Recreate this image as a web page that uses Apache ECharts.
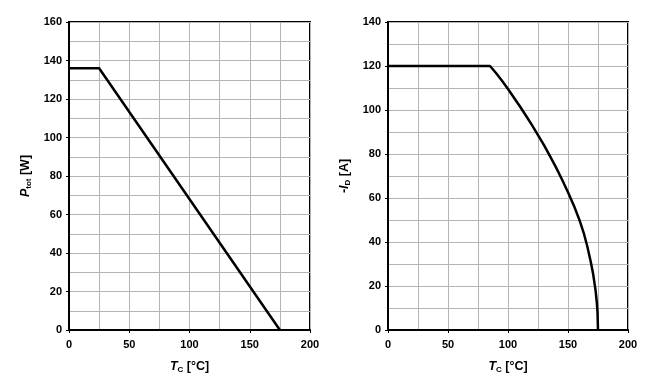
<!DOCTYPE html>
<html><head><meta charset="utf-8">
<script src="https://cdn.jsdelivr.net/npm/echarts@6/dist/echarts.min.js"></script>
<style>html,body{margin:0;padding:0;background:#fff}#c{width:654px;height:386px}</style>
</head><body><div id="c"></div>
<script>
// Left chart: Ptot vs Tc
const ptotT = [0, 25, 175];
const ptotW = [136, 136, 0];
// Right chart: -ID vs Tc
const idT = [0, 85, 90, 95, 100, 105, 110, 115, 120, 125, 130, 135, 140, 145, 150, 155, 160, 163, 166, 169, 171, 173, 174, 174.6, 175];
const idA = [120, 120, 116.8, 113.3, 109.5, 105.6, 101.6, 97.4, 93.1, 88.6, 84, 79, 73.9, 68.4, 62.6, 56.4, 49.3, 44.3, 38.2, 30.9, 25.3, 17.9, 12.6, 8, 0];
const xTicks = [0, 50, 100, 150, 200];

const chart = echarts.init(document.getElementById('c'));
const FONT = '"Liberation Sans", Arial, sans-serif';
const gridLine = {show: true, lineStyle: {color: '#b4b4b4', width: 1}};
const lbl = {color: '#000', fontFamily: FONT, fontWeight: 'bold', fontSize: 11};
const nameRich = {
  i: {fontFamily: FONT, fontWeight: 'bold', fontStyle: 'italic', fontSize: 12.5, color: '#000'},
  s: {fontFamily: FONT, fontWeight: 'bold', fontSize: 8, color: '#000', verticalAlign: 'bottom', padding: [6, 0, 0, 0]},
  n: {fontFamily: FONT, fontWeight: 'bold', fontSize: 12.5, color: '#000'}
};
function xAxis(gi) {
  return {type: 'value', gridIndex: gi, min: xTicks[0], max: xTicks[xTicks.length - 1], interval: 50,
    name: '{i|T}{s|C}{n| [°C]}', nameLocation: 'middle', nameGap: 30,
    nameTextStyle: {rich: nameRich},
    axisLine: {show: true, lineStyle: {color: '#000', width: 2}},
    axisTick: {show: true, length: 3, lineStyle: {color: '#000'}},
    axisLabel: Object.assign({margin: 9}, lbl),
    splitLine: gridLine, minorTick: {show: false, splitNumber: 2},
    minorSplitLine: gridLine};
}
function yAxis(gi, max, name) {
  return {type: 'value', gridIndex: gi, min: 0, max: max, interval: 20,
    name: name, nameLocation: 'middle', nameGap: 36, nameRotate: 90,
    nameTextStyle: {rich: nameRich},
    axisLine: {show: true, lineStyle: {color: '#000', width: 2}},
    axisTick: {show: true, length: 3, lineStyle: {color: '#000'}},
    axisLabel: Object.assign({margin: 7}, lbl),
    splitLine: gridLine, minorTick: {show: false, splitNumber: 2},
    minorSplitLine: gridLine};
}
chart.setOption({
  animation: false,
  grid: [
    {left: 69, top: 22, width: 241, height: 308, show: true, borderColor: '#000', borderWidth: 2, backgroundColor: 'transparent'},
    {left: 388, top: 22, width: 240, height: 308, show: true, borderColor: '#000', borderWidth: 2, backgroundColor: 'transparent'}
  ],
  xAxis: [xAxis(0), xAxis(1)],
  yAxis: [yAxis(0, 160, '{i|P}{s|tot}{n| [W]}'), yAxis(1, 140, '{n|-}{i|I}{s|D}{n| [A]}')],
  series: [
    {type: 'line', xAxisIndex: 0, yAxisIndex: 0, data: ptotT.map((t, i) => [t, ptotW[i]]),
      showSymbol: false, lineStyle: {color: '#000', width: 2.5}, z: 5},
    {type: 'line', xAxisIndex: 1, yAxisIndex: 1, data: idT.map((t, i) => [t, idA[i]]),
      smooth: false, showSymbol: false, lineStyle: {color: '#000', width: 2.5, join: 'round'}, z: 5}
  ]
});
</script></body></html>
